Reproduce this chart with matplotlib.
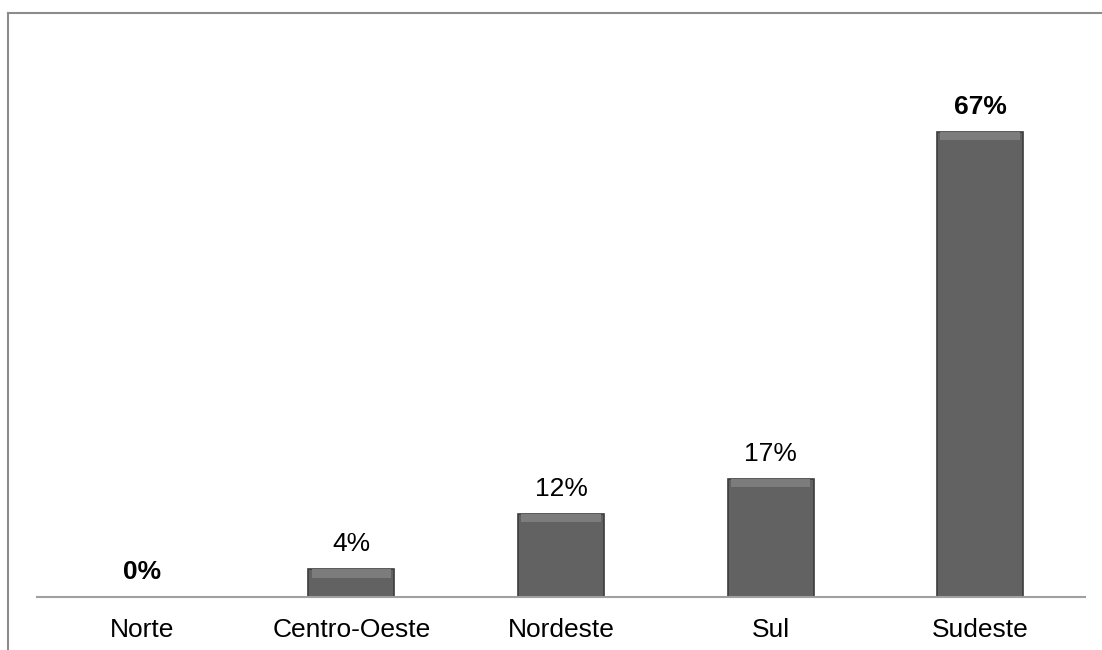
import matplotlib.pyplot as plt
from matplotlib.lines import Line2D

plt.rcParams['font.family'] = ['Liberation Sans', 'DejaVu Sans']

regioes = ['Norte', 'Centro-Oeste', 'Nordeste', 'Sul', 'Sudeste']
valores = [0, 4, 12, 17, 67]
negrito = [True, False, False, False, True]

W, H = 1102, 650
fig = plt.figure(figsize=(W / 100, H / 100), dpi=100)
ax = fig.add_axes([37 / W, 53 / H, 1048 / W, (597 - 53) / H])

x = range(len(regioes))
ax.bar(x, valores, width=0.41, color='#626262', edgecolor='#3c3c3c', linewidth=1.2, zorder=2)
# faixa clara no topo para lembrar o chanfro
ax.bar(x, [min(v, 1.2) for v in valores], bottom=[max(v - 1.2, 0) for v in valores],
       width=0.38, color='#7c7c7c', linewidth=0, zorder=3)

for xi, v, b in zip(x, valores, negrito):
    ax.text(xi, v + 1.9, f'{v}%', ha='center', va='bottom', fontsize=19,
            fontweight='bold' if b else 'normal', color='black')

ax.set_xlim(-0.5, 4.5)
ax.set_ylim(0, 78.4)
ax.set_xticks(list(x))
ax.set_xticklabels(regioes, fontsize=19)
ax.tick_params(axis='x', length=0, pad=15)
ax.set_yticks([])
for s in ['top', 'left', 'right']:
    ax.spines[s].set_visible(False)
ax.spines['bottom'].set_color('#a0a0a0')
ax.spines['bottom'].set_linewidth(1.5)

# moldura do gráfico
fig.add_artist(Line2D([8 / W, 1.0], [1 - 13 / H, 1 - 13 / H], color='#8c8c8c', lw=1.5))
fig.add_artist(Line2D([8 / W, 8 / W], [0, 1 - 13 / H], color='#8c8c8c', lw=1.5))

fig.savefig('out.png', dpi=100)
